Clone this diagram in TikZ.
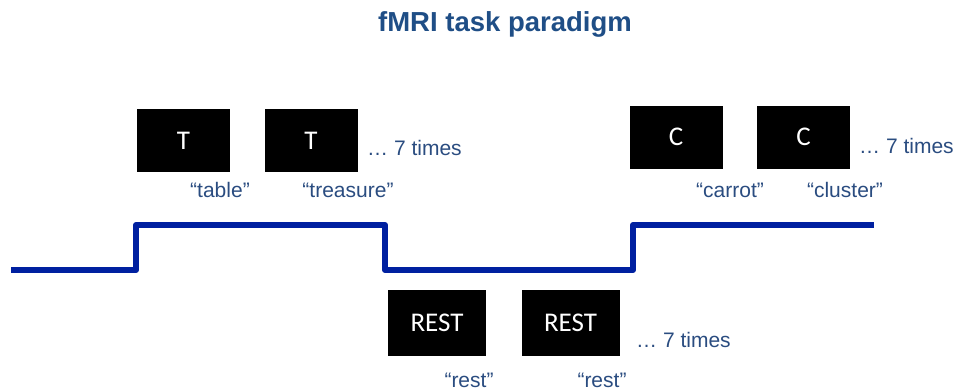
\documentclass[tikz,border=0pt]{standalone}
\usepackage{fontspec}
\setmainfont{Liberation Sans}
\newfontfamily\boxfont{Carlito}
\usetikzlibrary{positioning}
\usepackage{xcolor}
\definecolor{stepblue}{HTML}{0020A0}
\definecolor{labelblue}{HTML}{2A4C80}
\definecolor{titleblue}{HTML}{1F4E86}

\begin{document}
\begin{tikzpicture}[x=1pt,y=-1pt,
    stim/.style={fill=black, text=white, inner sep=0pt,
        minimum width=93pt, minimum height=63pt,
        font=\boxfont\fontsize{27}{27}\selectfont},
    reststim/.style={stim, minimum width=98pt, minimum height=66pt},
    word/.style={text=labelblue, inner sep=0pt,
        font=\fontsize{21}{21}\selectfont},
    stepline/.style={stepblue, line width=6pt, line join=round}]
    \useasboundingbox (0,0) rectangle (958,391);

    \node[text=titleblue, font=\bfseries\fontsize{27.5}{28}\selectfont] (title) at (505,24) {fMRI task paradigm};

    % signal
    \draw[stepline] (11,270) -- (136,270) -- (136,225) -- (385,225)
        -- (385,270) -- (633,270) -- (633,225) -- (874,225);

    % task blocks
    \node[stim] (t1) at (183.5,140.5) {T};
    \node[stim] (t2) at (311,140.5) {T};
    \node[word, anchor=west] (ttimes) at (367,148) {\dots\ 7 times};
    \node[word] (table) at (220,190) {“table”};
    \node[word] (treasure) at (348,190) {“treasure”};

    \node[stim] (c1) at (676,137) {C};
    \node[stim] (c2) at (803.5,137) {C};
    \node[word, anchor=west] (ctimes) at (859,146) {\dots\ 7 times};
    \node[word] (carrot) at (730,190) {“carrot”};
    \node[word] (cluster) at (845,190) {“cluster”};

    % rest blocks
    \node[reststim] (r1) at (437,323) {REST};
    \node[reststim] (r2) at (570.5,323) {REST};
    \node[word, anchor=west] (rtimes) at (636,340) {\dots\ 7 times};
    \node[word] (rest1) at (469,380) {“rest”};
    \node[word] (rest2) at (602,380) {“rest”};
\end{tikzpicture}
\end{document}
